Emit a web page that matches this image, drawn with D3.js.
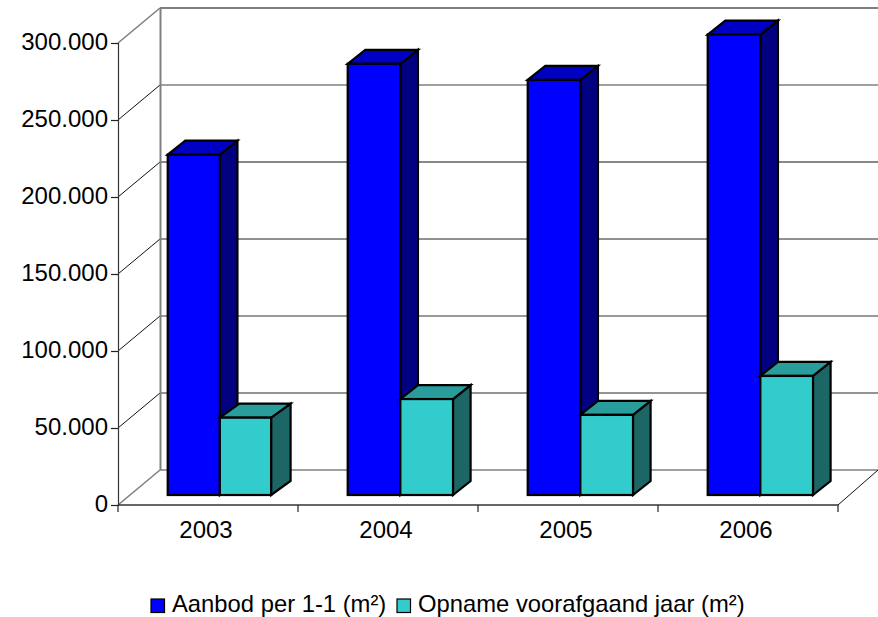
<!DOCTYPE html>
<html><head><meta charset="utf-8">
<script src="https://cdnjs.cloudflare.com/ajax/libs/d3/7.8.5/d3.min.js"></script>
<style>html,body{margin:0;padding:0;background:#fff}svg{display:block}text{font-family:"Liberation Sans",Arial,sans-serif;fill:#000}</style>
</head><body><svg id="c" width="878" height="617"></svg>
<script>
const years = ["2003","2004","2005","2006"];
const seriesNames = ["Aanbod per 1-1 (m²)","Opname voorafgaand jaar (m²)"];
const aanbod = [221000,280000,269500,299000];
const opname = [50200,62300,52000,77300];
const yTicks = [0,50000,100000,150000,200000,250000,300000];
const tickText = ["0","50.000","100.000","150.000","200.000","250.000","300.000"];

const palette = [
  {front:"#0000ff",top:"#0000c4",side:"#000080"},
  {front:"#33cccc",top:"#299c9c",side:"#1c6666"}
];
const svg = d3.select("#c");
const fs = 24;
const x = d3.scaleBand().domain(years).range([118,838]);
const y = d3.scaleLinear().domain([0,300000]).range([505,43]);
const wallDx = 42, wallDy = -35;
const barDepthX = 17.6, barDepthY = -14, barFloor = 10;
const inner = d3.scaleBand().domain([0,1]).range([49.7, 155]);
const gridStyle = {0:["#808080",1.6],50000:["#707070",1.5],100000:["#777",1.3],150000:["#222",1],200000:["#111",1],250000:["#808080",1.5],300000:["#808080",2]};

// walls
const wall = svg.append("g").attr("fill","none");
yTicks.forEach(t=>{
  const [c,w]=gridStyle[t];
  wall.append("line").attr("x1",118+wallDx).attr("x2",878).attr("y1",y(t)+wallDy).attr("y2",y(t)+wallDy).attr("stroke",c).attr("stroke-width",w);
  wall.append("line").attr("x1",118).attr("x2",118+wallDx).attr("y1",y(t)).attr("y2",y(t)+wallDy)
    .attr("stroke",(t===0||t===300000)?"#808080":"#111").attr("stroke-width",(t===0||t===300000)?1.6:1);
});
wall.append("line").attr("x1",160.5).attr("x2",160.5).attr("y1",y(300000)+wallDy).attr("y2",y(0)+wallDy).attr("stroke","#808080").attr("stroke-width",2);
wall.append("line").attr("x1",838).attr("x2",878).attr("y1",505).attr("y2",470).attr("stroke","#111").attr("stroke-width",1);

// axes
const yAxis = d3.axisLeft(y).tickValues(yTicks).tickSize(7).tickPadding(3).tickFormat((d,i)=>tickText[i]);
const gy = svg.append("g").attr("transform","translate(118,0)").call(yAxis);
gy.selectAll("text").attr("font-size",fs).attr("dy",null).attr("dominant-baseline",null).each(function(){d3.select(this).attr("dy","6.8px");});
gy.selectAll("path,line").attr("stroke","#222").attr("stroke-width",1.2);
gy.select("path").attr("stroke","#333");
const gx = svg.append("g").attr("transform","translate(0,505)").call(d3.axisBottom(x).tickSize(0));
gx.selectAll("text").attr("font-size",fs).attr("dx",-2).attr("y",33).attr("dy",0);
gx.select("path").remove();
gx.selectAll("g.tick line").remove();
[...years.map(d=>x(d)),838].forEach(v=>svg.append("line").attr("x1",v).attr("x2",v).attr("y1",505).attr("y2",512).attr("stroke","#222").attr("stroke-width",1.2));
svg.append("line").attr("x1",118).attr("x2",838).attr("y1",505).attr("y2",505).attr("stroke","#333").attr("stroke-width",1.6);

// bars
const base = y(0)-barFloor;
const h = v => (505-y(v));
function bar(x0,x1,v,p,extraDepth){
  const t = base-h(v);
  const dx = barDepthX+extraDepth;
  const g = svg.append("g").attr("stroke","#000").attr("stroke-width",2.2).attr("stroke-linejoin","miter");
  const P = a=>a.map(q=>q.join(",")).join(" ");
  g.append("polygon").attr("points",P([[x1,t],[x1+dx,t+barDepthY],[x1+dx,base+barDepthY],[x1,base]])).attr("fill",p.side);
  g.append("polygon").attr("points",P([[x0,t],[x0+dx,t+barDepthY],[x1+dx,t+barDepthY],[x1,t]])).attr("fill",p.top);
  g.append("rect").attr("x",x0).attr("y",t).attr("width",x1-x0).attr("height",base-t).attr("fill",p.front);
}
years.forEach((yr,i)=>{
  const x0=x(yr), w=inner.bandwidth();
  // the first group's second bar is drawn slightly narrower in the reference
  const trim = i===0 ? 1.9 : 0;
  const mid = x0+inner(1)-(i===0?0.5:0);
  bar(x0+inner(0),mid,aanbod[i],palette[0],0);
  bar(mid,x0+inner(1)+w-trim,opname[i],palette[1],trim);
});

// legend
const lx=[151,397], tx=[172,418];
seriesNames.forEach((n,i)=>{
  svg.append("rect").attr("x",lx[i]).attr("y",599).attr("width",13.5).attr("height",13.5).attr("fill",palette[i].front).attr("stroke","#000").attr("stroke-width",1.2);
  svg.append("text").attr("x",tx[i]).attr("y",612).attr("font-size",23.8).text(n);
});
</script></body></html>
